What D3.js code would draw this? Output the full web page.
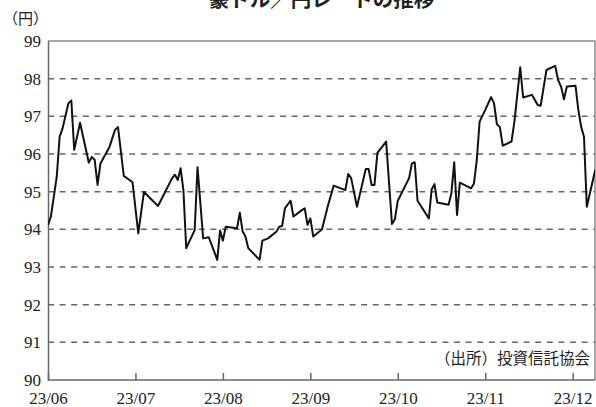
<!DOCTYPE html>
<html>
<head>
<meta charset="utf-8">
<script src="https://cdn.jsdelivr.net/npm/d3@7"></script>
<style>
  body { margin: 0; background: #fff; }
  svg { display: block; }
</style>
</head>
<body>
<svg id="chart" width="596" height="407"></svg>
<script>
// AUD/JPY rate
const dates = [
  "2023-06-01","2023-06-02","2023-06-04","2023-06-05","2023-06-06","2023-06-08","2023-06-09","2023-06-10",
  "2023-06-12","2023-06-15","2023-06-16","2023-06-17","2023-06-18","2023-06-19","2023-06-22","2023-06-24",
  "2023-06-25","2023-06-27","2023-06-30",
  "2023-07-02","2023-07-04","2023-07-09","2023-07-14","2023-07-15","2023-07-16","2023-07-17","2023-07-18",
  "2023-07-19","2023-07-22","2023-07-23","2023-07-25","2023-07-27","2023-07-30","2023-07-31",
  "2023-08-01","2023-08-02","2023-08-06","2023-08-07","2023-08-08","2023-08-09","2023-08-10","2023-08-14",
  "2023-08-15","2023-08-17","2023-08-18","2023-08-20","2023-08-21","2023-08-22","2023-08-23","2023-08-25",
  "2023-08-26","2023-08-29","2023-08-30","2023-08-31",
  "2023-09-01","2023-09-02","2023-09-05","2023-09-07","2023-09-09","2023-09-13","2023-09-14","2023-09-15",
  "2023-09-17","2023-09-20","2023-09-21","2023-09-22","2023-09-23","2023-09-24","2023-09-27","2023-09-29",
  "2023-09-30",
  "2023-10-01","2023-10-05","2023-10-06","2023-10-07","2023-10-08","2023-10-12","2023-10-13","2023-10-14",
  "2023-10-15","2023-10-19","2023-10-20","2023-10-21","2023-10-22","2023-10-23","2023-10-27","2023-10-28",
  "2023-10-29","2023-10-30",
  "2023-11-01","2023-11-03","2023-11-04","2023-11-05","2023-11-06","2023-11-07","2023-11-10","2023-11-11",
  "2023-11-13","2023-11-14","2023-11-17","2023-11-19","2023-11-20","2023-11-22","2023-11-25","2023-11-26",
  "2023-11-27","2023-11-28","2023-11-29",
  "2023-12-02","2023-12-03","2023-12-04","2023-12-05","2023-12-06","2023-12-09"
];
const rates = [
  94.12, 94.34, 95.40, 96.46, 96.68, 97.35, 97.42, 96.11,
  96.83, 95.77, 95.92, 95.85, 95.18, 95.75, 96.17, 96.64,
  96.72, 95.42, 95.25,
  93.89, 94.99, 94.62, 95.36, 95.45, 95.31, 95.62, 95.04,
  93.50, 93.98, 95.65, 93.76, 93.79, 93.19, 93.97,
  93.70, 94.07, 94.03, 94.44, 93.94, 93.81, 93.50, 93.19,
  93.70, 93.76, 93.82, 93.94, 94.07, 94.09, 94.56, 94.76,
  94.34, 94.51, 94.56, 94.12,
  94.29, 93.81, 94.00, 94.62, 95.16, 95.04, 95.47, 95.36,
  94.60, 95.60, 95.60, 95.18, 95.18, 96.03, 96.33, 94.14,
  94.27,
  94.76, 95.36, 95.75, 95.78, 94.76, 94.29, 95.06, 95.20,
  94.71, 94.65, 94.96, 95.78, 94.38, 95.24, 95.09, 95.22,
  95.84, 96.86,
  97.17, 97.51, 97.35, 96.79, 96.72, 96.22, 96.33, 96.86,
  98.30, 97.50, 97.57, 97.30, 97.28, 98.23, 98.34, 97.96,
  97.79, 97.45, 97.79,
  97.81, 97.17, 96.72, 96.46, 94.60, 95.58
];
const monthStarts = ["2023-06-01","2023-07-01","2023-08-01","2023-09-01","2023-10-01","2023-11-01","2023-12-01","2024-01-01"];
const yTicks = [90, 91, 92, 93, 94, 95, 96, 97, 98, 99];
const gridTicks = [91, 92, 93, 94, 95, 96, 97, 98];

const titleText = "豪ドル／円レートの推移";
const unitText = "（円）";
const sourceText = "（出所）投資信託協会";

const W = 596, H = 407;
const plot = { left: 48, top: 41, right: 595, bottom: 380 };
const monthW = 87.45;

const parse = d3.timeParse("%Y-%m-%d");
const data = dates.map((d, i) => ({ date: parse(d), value: rates[i] }));
const months = monthStarts.map(parse);

const svg = d3.select("#chart");
svg.append("rect").attr("width", W).attr("height", H).attr("fill", "#fff");

// every month gets the same width on this chart
const x = d3.scaleTime()
  .domain(months)
  .range(months.map((d, i) => plot.left + i * monthW));

const y = d3.scaleLinear().domain([90, 99]).range([plot.bottom, plot.top]);

svg.append("defs").append("clipPath").attr("id", "plot-clip")
  .append("rect")
  .attr("x", plot.left).attr("y", plot.top - 5)
  .attr("width", plot.right - plot.left).attr("height", plot.bottom - plot.top + 10);

// dashed grid
svg.append("g")
  .selectAll("line")
  .data(gridTicks)
  .enter().append("line")
  .attr("x1", plot.left).attr("x2", plot.right)
  .attr("y1", d => y(d)).attr("y2", d => y(d))
  .attr("stroke", "#666")
  .attr("stroke-width", 1.5)
  .attr("stroke-dasharray", "6,5.6");

// frame top and right
svg.append("path")
  .attr("d", `M${plot.left},${y(99)}H${plot.right}V${plot.bottom}`)
  .attr("fill", "none")
  .attr("stroke", "#8a8a8a")
  .attr("stroke-width", 1.5);

// axes
const xAxis = d3.axisBottom(x)
  .tickValues(months.slice(0, 7))
  .tickFormat(d3.timeFormat("%y/%m"))
  .tickSizeInner(-7)
  .tickSizeOuter(0)
  .tickPadding(12);

const gx = svg.append("g")
  .attr("transform", `translate(0,${plot.bottom})`)
  .call(xAxis);
gx.select(".domain").attr("d", `M${plot.left},0H${plot.right}`);

const yAxis = d3.axisLeft(y)
  .tickValues(yTicks)
  .tickSize(0)
  .tickPadding(7);

const gy = svg.append("g")
  .attr("transform", `translate(${plot.left},0)`)
  .call(yAxis);

[gx, gy].forEach(g => {
  g.select(".domain").attr("stroke", "#666").attr("stroke-width", 1.5);
  g.selectAll(".tick line").attr("stroke", "#666").attr("stroke-width", 1.5);
  g.selectAll(".tick text")
    .attr("fill", "#222")
    .style("font-family", "'Liberation Serif', 'DejaVu Serif', serif")
    .style("font-size", "17px");
});

// rate line
const line = d3.line()
  .x(d => x(d.date))
  .y(d => y(d.value));

svg.append("path")
  .datum(data)
  .attr("clip-path", "url(#plot-clip)")
  .attr("d", line)
  .attr("fill", "none")
  .attr("stroke", "#111")
  .attr("stroke-width", 2)
  .attr("stroke-linejoin", "round");

// texts
const cjk = "'Noto Sans CJK JP', 'Noto Sans CJK SC', sans-serif";

svg.append("text")
  .attr("x", (plot.left + plot.right) / 2)
  .attr("y", 7)
  .attr("text-anchor", "middle")
  .style("font-family", cjk)
  .style("font-size", "20.5px")
  .style("font-weight", "700")
  .attr("fill", "#222")
  .text(titleText);

svg.append("text")
  .attr("x", 25.5)
  .attr("y", 24)
  .attr("text-anchor", "middle")
  .style("font-family", cjk)
  .style("font-size", "15px")
  .attr("fill", "#222")
  .text(unitText);

svg.append("text")
  .attr("x", 590)
  .attr("y", 364)
  .attr("text-anchor", "end")
  .style("font-family", cjk)
  .style("font-size", "15.5px")
  .attr("fill", "#222")
  .text(sourceText);
</script>
</body>
</html>
